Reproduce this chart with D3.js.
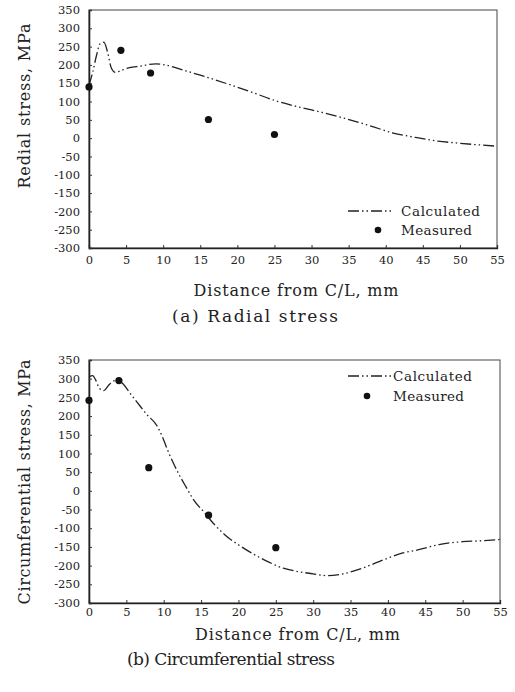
<!DOCTYPE html>
<html>
<head>
<meta charset="utf-8">
<script src="https://cdn.jsdelivr.net/npm/d3@7/dist/d3.min.js"></script>
<style>
  html, body { margin: 0; padding: 0; background: #fff; }
  svg { display: block; }
  text { font-family: "DejaVu Serif", "Liberation Serif", serif; fill: #222; }
</style>
</head>
<body>
<svg id="chart" width="515" height="692"></svg>
<script>
// ---- Data ----
const xTicks = [0, 5, 10, 15, 20, 25, 30, 35, 40, 45, 50, 55];
const yTicks = [350, 300, 250, 200, 150, 100, 50, 0, -50, -100, -150, -200, -250, -300];

// (a) Radial stress
const radialCalcX = [0, 0.5, 1.0, 1.5, 2.0, 2.5, 3.0, 3.5, 4.0, 5, 7, 9, 10, 13, 15, 19, 22, 25.5, 28.5, 31.5, 34.5, 38, 41, 44, 47, 50, 55];
const radialCalcY = [145, 180, 225, 258, 262, 235, 192, 180, 182, 190, 197, 203, 201, 184, 172, 146, 125, 100, 84, 70, 54, 33, 14, 2, -8, -14, -22];
const radialMeasX = [0, 4.3, 8.3, 16.1, 25];
const radialMeasY = [140, 240, 178, 51, 10];

// (b) Circumferential stress
const circCalcX = [0, 0.5, 0.9, 1.4, 2.0, 2.6, 3.3, 3.9, 4.6, 5.5, 6.4, 7.7, 9.1, 9.9, 10.6, 11.3, 12.2, 13, 14, 15.3, 16.6, 18.2, 20.2, 22, 24, 26, 28, 30, 32, 34, 36, 38, 40, 42, 44, 47, 50, 52, 55];
const circCalcY = [305, 308, 296, 274, 268, 282, 294, 296, 285, 261, 238, 205, 174, 141, 105, 74, 38, 10, -24, -55, -86, -118, -147, -169, -190, -207, -216, -222, -227, -222, -211, -196, -180, -166, -158, -143, -136, -134, -130];
const circMeasX = [0, 4, 8, 16, 25];
const circMeasY = [242, 295, 62, -65, -152];

const xLabel = "Distance from C/L, mm";
const legendNames = ["Calculated", "Measured"];

const svg = d3.select("#chart");

function panel(cfg) {
  const x = d3.scaleLinear().domain([0, 55]).range([cfg.left, cfg.right]);
  const y = d3.scaleLinear().domain([-300, 350]).range([cfg.bottom, cfg.top]);
  const g = svg.append("g");

  // frame
  g.append("rect").attr("x", cfg.left).attr("y", cfg.top)
    .attr("width", cfg.right - cfg.left).attr("height", cfg.bottom - cfg.top)
    .attr("fill", "none").attr("stroke", "#444").attr("stroke-width", 1);

  // x axis
  const xa = g.append("g").attr("transform", `translate(0,${cfg.bottom})`)
    .call(d3.axisBottom(x).tickValues(xTicks).tickSize(-3).tickPadding(cfg.xPad).tickFormat(d3.format("d")));
  xa.select(".domain").attr("stroke", "#222").attr("stroke-width", 1.3);
  xa.selectAll(".tick line").attr("stroke", "#333");
  xa.selectAll("text").style("font-size", "11.5px").attr("fill", "#222");

  // y axis
  const ya = g.append("g").attr("transform", `translate(${cfg.left},0)`)
    .call(d3.axisLeft(y).tickValues(yTicks).tickSize(-3).tickPadding(9).tickFormat(d => d < 0 ? "-" + Math.abs(d) : d));
  ya.select(".domain").attr("stroke", "#222").attr("stroke-width", 1.6);
  ya.selectAll(".tick line").attr("stroke", "#333");
  ya.selectAll("text").style("font-size", "11.5px").attr("fill", "#222");

  // calculated line
  const pts = cfg.cx.map((d, i) => [d, cfg.cy[i]]);
  const line = d3.line().x(d => x(d[0])).y(d => y(d[1])).curve(d3.curveMonotoneX);
  g.append("path").datum(pts).attr("d", line)
    .attr("fill", "none").attr("stroke", "#222").attr("stroke-width", 1.3)
    .attr("stroke-dasharray", "11,3,1.5,3,1.5,3");

  // measured
  g.selectAll("circle.m").data(cfg.mx.map((d, i) => [d, cfg.my[i]])).enter()
    .append("circle").attr("class", "m")
    .attr("cx", d => x(d[0])).attr("cy", d => y(d[1])).attr("r", 3.6).attr("fill", "#111");

  // legend
  const L = cfg.legend;
  g.append("line").attr("x1", L.x1).attr("x2", L.x2).attr("y1", L.y1).attr("y2", L.y1)
    .attr("stroke", "#222").attr("stroke-width", 1.3).attr("stroke-dasharray", "11,3,1.5,3,1.5,3");
  g.append("text").attr("x", L.tx).attr("y", L.y1 + 5).text(legendNames[0])
    .style("font-size", "13.5px").attr("textLength", 79).attr("lengthAdjust", "spacing");
  g.append("circle").attr("cx", L.dx).attr("cy", L.y2).attr("r", 3.3).attr("fill", "#111");
  g.append("text").attr("x", L.tx).attr("y", L.y2 + 5).text(legendNames[1])
    .style("font-size", "13.5px").attr("textLength", 71).attr("lengthAdjust", "spacing");

  // axis titles
  g.append("text").attr("x", (cfg.left + cfg.right) / 2 + 3).attr("y", cfg.xTitleY)
    .attr("text-anchor", "middle").style("font-size", "16px")
    .attr("textLength", 205).attr("lengthAdjust", "spacing").text(xLabel);
  g.append("text").attr("transform", `translate(${cfg.yTitleX},${cfg.yTitleCY}) rotate(-90)`)
    .attr("text-anchor", "middle").style("font-size", "16px")
    .attr("textLength", cfg.yTitleLen).attr("lengthAdjust", "spacing").text(cfg.yTitle);

  // caption
  g.append("text").attr("x", cfg.capX).attr("y", cfg.capY)
    .attr("text-anchor", "middle").style("font-size", "17px")
    .attr("textLength", cfg.capLen).attr("lengthAdjust", "spacing").text(cfg.caption);
}

panel({
  left: 89, right: 497, top: 10, bottom: 248, xPad: 8,
  cx: radialCalcX, cy: radialCalcY, mx: radialMeasX, my: radialMeasY,
  legend: { x1: 348, x2: 393, y1: 211, y2: 230, dx: 378, tx: 401 },
  xTitleY: 296, yTitleX: 30, yTitleCY: 106, yTitleLen: 165, yTitle: "Redial stress, MPa",
  capX: 255, capY: 322, capLen: 166, caption: "(a) Radial stress"
});

panel({
  left: 89, right: 500, top: 360, bottom: 603, xPad: 5,
  cx: circCalcX, cy: circCalcY, mx: circMeasX, my: circMeasY,
  legend: { x1: 348, x2: 392, y1: 376, y2: 396, dx: 367, tx: 393 },
  xTitleY: 640, yTitleX: 30, yTitleCY: 482, yTitleLen: 245, yTitle: "Circumferential stress, MPa",
  capX: 231, capY: 665, capLen: 208, caption: "(b) Circumferential stress"
});
</script>
</body>
</html>
